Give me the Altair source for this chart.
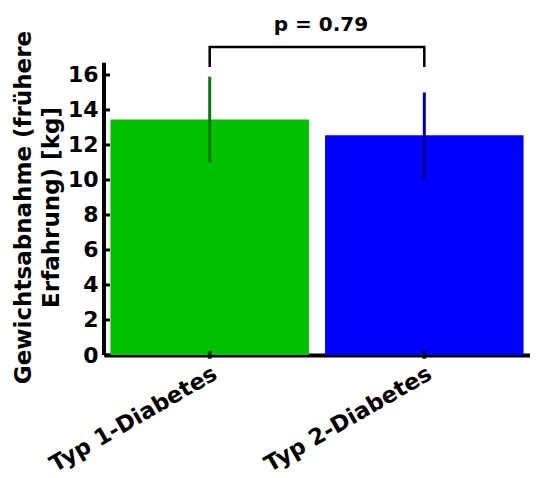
import altair as alt
import pandas as pd

categories = ["Typ 1-Diabetes", "Typ 2-Diabetes"]
means = [13.45, 12.55]
lows = [11.0, 10.0]
highs = [15.9, 15.0]
bar_colors = ["#00c000", "#0000ff"]
err_colors = ["#0a780a", "#000099"]
y_ticks = [0, 2, 4, 6, 8, 10, 12, 14, 16]
y_axis_top = 16.7
bracket_low = 16.45
bracket_high = 17.6
p_label = "p = 0.79"
p_y = 18.86

W, H = 426, 342
FONT = "DejaVu Sans"

df = pd.DataFrame({"cat": categories, "mean": means, "low": lows, "high": highs,
                   "bc": bar_colors, "ec": err_colors})

xs = alt.Scale(domain=categories, paddingInner=0.075, paddingOuter=0.03)
ys = alt.Scale(domain=[0, 19.54], nice=False, zero=True)

xaxis = alt.Axis(title=None, labelAngle=-30, labelAlign="right", labelBaseline="top",
                 labelFont=FONT, labelFontSize=22.5, labelFontWeight="bold", labelColor="black",
                 labelLimit=0, domainWidth=4, domainColor="black", ticks=False, labelPadding=7)
yaxis = alt.Axis(title=["Gewichtsabnahme (frühere", "Erfahrung) [kg]"], values=y_ticks,
                 domain=False, ticks=False, grid=False, labelFont=FONT, labelFontSize=22,
                 labelFontWeight="bold", labelColor="black", labelPadding=6,
                 titleFont=FONT, titleFontSize=23, titleFontWeight="bold", titleColor="black",
                 titleLineHeight=28, titlePadding=4, titleY=194)

base = alt.Chart(df)

bars = base.mark_bar().encode(
    x=alt.X("cat:N", scale=xs, axis=xaxis, sort=categories),
    y=alt.Y("mean:Q", scale=ys, axis=yaxis),
    color=alt.Color("bc:N", scale=None),
)

errs = base.mark_rule(strokeWidth=3).encode(
    x=alt.X("cat:N", sort=categories),
    y="low:Q", y2="high:Q",
    color=alt.Color("ec:N", scale=None),
)

xticks = base.mark_tick(orient="vertical", size=8, thickness=4, color="black").encode(
    x=alt.X("cat:N", sort=categories), y=alt.datum(0))

yline = alt.Chart(pd.DataFrame({"a": [0], "b": [y_axis_top]})).mark_rule(
    strokeWidth=4, color="black").encode(x=alt.value(0), y="a:Q", y2="b:Q")

ytk = alt.Chart(pd.DataFrame({"v": y_ticks})).mark_rule(strokeWidth=3, color="black").encode(
    x=alt.value(0), x2=alt.value(6), y="v:Q")

br = pd.DataFrame({"cat": [categories[0], categories[0], categories[1], categories[1]],
                   "y": [bracket_low, bracket_high, bracket_high, bracket_low],
                   "o": [0, 1, 2, 3]})
bracket = alt.Chart(br).mark_line(color="black", strokeWidth=2.5).encode(
    x=alt.X("cat:N", sort=categories), y="y:Q", order="o:Q")

ptext = alt.Chart(pd.DataFrame({"t": [p_label], "y": [p_y]})).mark_text(
    font=FONT, fontSize=20, fontWeight="bold", color="black").encode(
    x=alt.value(W / 2 + 4), y="y:Q", text="t:N")

chart = alt.layer(bars, errs, xticks, yline, ytk, bracket, ptext).properties(
    width=W, height=H, background="white",
    padding={"left": 4, "top": 5, "right": 0, "bottom": 5}
).configure_view(strokeWidth=0)

chart.save("out.html", embed_options={"renderer": "svg", "actions": False})
